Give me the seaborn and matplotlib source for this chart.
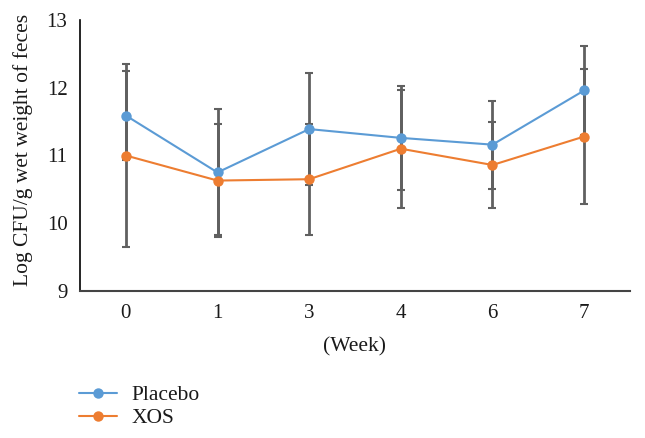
import matplotlib
matplotlib.use("Agg")
import matplotlib.pyplot as plt
import seaborn as sns
import pandas as pd
import numpy as np

weeks = ["0", "1", "3", "4", "6", "7"]
placebo = [11.59, 10.75, 11.39, 11.26, 11.16, 11.96]
placebo_err = [0.65, 0.93, 0.83, 0.77, 0.65, 0.66]
xos = [11.00, 10.63, 10.65, 11.10, 10.86, 11.28]
xos_err = [1.35, 0.84, 0.82, 0.87, 0.64, 1.00]

sns.set_style("white")
plt.rcParams['font.family'] = ['Liberation Serif', 'DejaVu Serif']

df = pd.DataFrame({
    "Week": weeks * 2,
    "value": placebo + xos,
    "err": placebo_err + xos_err,
    "group": ["Placebo"] * len(weeks) + ["XOS"] * len(weeks),
})

colors = {"Placebo": "#5B9BD5", "XOS": "#ED7D31"}
TXT = "#1a1a1a"

fig = plt.figure(figsize=(6.45, 4.38), dpi=100)
ax = fig.add_axes([80/645, 1 - 291/438, 550/645, 271/438])

for g in ["Placebo", "XOS"]:
    sub = df[df.group == g]
    xpos = np.arange(len(sub))
    ax.errorbar(xpos, sub["value"], yerr=sub["err"], fmt="none",
                ecolor="#606060", elinewidth=2, capsize=3, capthick=1.5, zorder=1)

sns.lineplot(data=df, x="Week", y="value", hue="group", palette=colors,
             marker="o", markersize=7.5, markeredgewidth=0, linewidth=1.5,
             sort=False, ax=ax, zorder=3, legend=True)

ax.set_ylim(9, 13)
ax.set_yticks([9, 10, 11, 12, 13])
ax.set_xlim(-0.5, 5.5)
ax.set_xlabel("(Week)", fontsize=15.5, color=TXT)
ax.set_ylabel("Log CFU/g wet weight of feces", fontsize=15.5, color=TXT)
ax.xaxis.set_label_coords(0.5, -(347 - 291) / 271, transform=ax.transAxes)
ax.yaxis.set_label_coords(-(80 - 23) / 550, (291 - 150) / 271, transform=ax.transAxes)
ax.xaxis.label.set_va("center")
ax.yaxis.label.set_va("center")
ax.tick_params(axis="both", labelsize=15, length=0, labelcolor=TXT)
ax.tick_params(axis="x", pad=9)
ax.tick_params(axis="y", pad=9)

for s in ["top", "right"]:
    ax.spines[s].set_visible(False)
ax.spines["left"].set_color("black")
ax.spines["left"].set_linewidth(1.2)
ax.spines["bottom"].set_color("#444444")
ax.spines["bottom"].set_linewidth(1.5)

handles, labels = ax.get_legend_handles_labels()
leg = ax.legend(handles, labels, loc="upper left", bbox_to_anchor=(79/645, 1 - 385/438),
                bbox_transform=fig.transFigure, frameon=False, fontsize=15.5,
                handlelength=1.75, handletextpad=0.7, labelspacing=0.15,
                borderpad=0, borderaxespad=0)
for t in leg.get_texts():
    t.set_color(TXT)

fig.savefig("out.png", dpi=100)
